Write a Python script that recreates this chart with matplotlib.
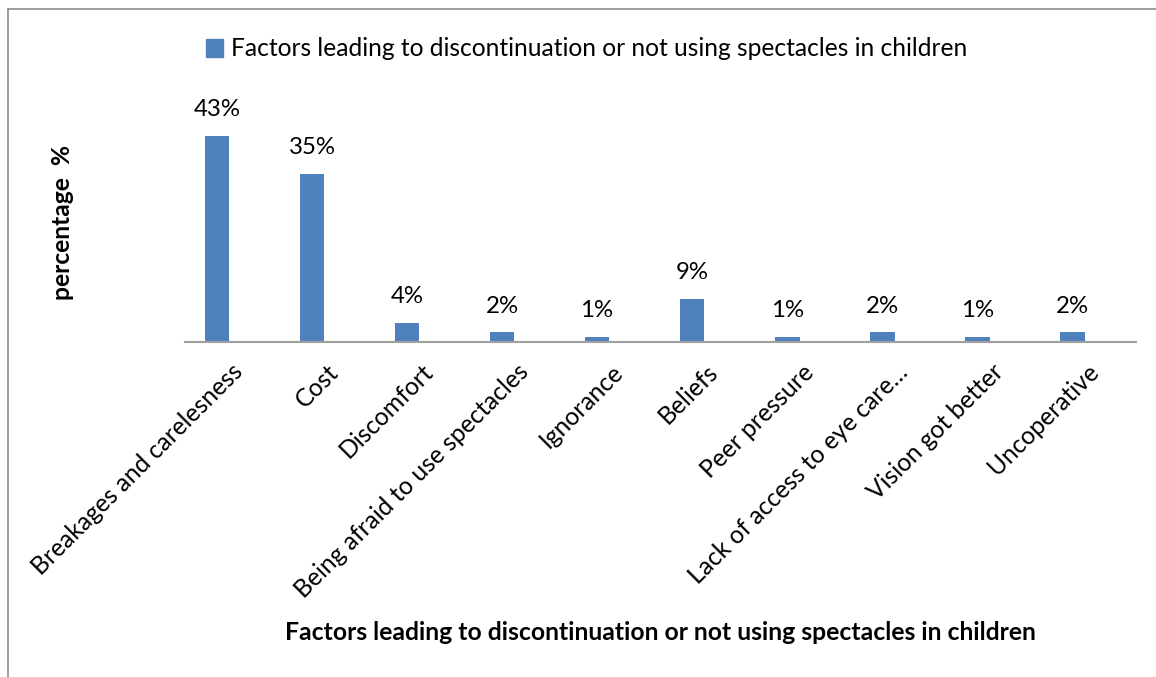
import matplotlib
matplotlib.use('Agg')
import matplotlib.pyplot as plt
import matplotlib.patches as mpatches
from matplotlib.lines import Line2D

plt.rcParams['font.family'] = ['Lato', 'DejaVu Sans']

categories = ['Breakages and carelesness', 'Cost', 'Discomfort',
              'Being afraid to use spectacles', 'Ignorance', 'Beliefs',
              'Peer pressure', 'Lack of access to eye care…',
              'Vision got better', 'Uncoperative']
values = [43, 35, 4, 2, 1, 9, 1, 2, 1, 2]
labels = ['43%', '35%', '4%', '2%', '1%', '9%', '1%', '2%', '1%', '2%']
series_name = 'Factors leading to discontinuation or not using spectacles in children'

fig = plt.figure(figsize=(11.56, 6.77), dpi=100)
ax = fig.add_axes([0.160, 0.4948, 0.8227, 0.354])

x = list(range(len(categories)))
bars = ax.bar(x, values, width=0.26, color='#4F81BD')

for xi, v, lab in zip(x, values, labels):
    ax.text(xi, v + 3.3, lab, ha='center', va='bottom', fontsize=17.3)

ax.set_xlim(-0.336, 9.67)
ax.set_ylim(0, 50)

ax.set_xticks([xi + 0.15 for xi in x])
ax.set_xticklabels(categories, rotation=45, ha='right', va='top',
                   rotation_mode='anchor', fontsize=17.7)
ax.tick_params(axis='x', length=0, pad=13)
ax.set_yticks([])

for s in ['top', 'right', 'left']:
    ax.spines[s].set_visible(False)
ax.spines['bottom'].set_color('#A0A0A0')
ax.spines['bottom'].set_linewidth(1.5)

fig.text(62 / 1156, 1 - 222 / 677, 'percentage  %', rotation=90,
         ha='center', va='center', fontsize=17.7, fontweight='bold')
fig.text(0.571, 1 - 633 / 677, series_name, ha='center', va='center',
         fontsize=17.8, fontweight='bold')

fig.legend(handles=[mpatches.Patch(color='#4F81BD', label=series_name)],
           loc='center left', bbox_to_anchor=(206 / 1156, 1 - 49 / 677),
           frameon=False, fontsize=17.7, handlelength=0.7, handleheight=0.7,
           handletextpad=0.3, borderpad=0, borderaxespad=0)

# outer chart border (cropped)
fig.add_artist(Line2D([8 / 1156, 8 / 1156], [0, 1 - 9 / 677], color='#8C8C8C', lw=1.2))
fig.add_artist(Line2D([8 / 1156, 1], [1 - 9 / 677, 1 - 9 / 677], color='#8C8C8C', lw=1.2))

plt.savefig('out.png', dpi=100)
plt.close()
